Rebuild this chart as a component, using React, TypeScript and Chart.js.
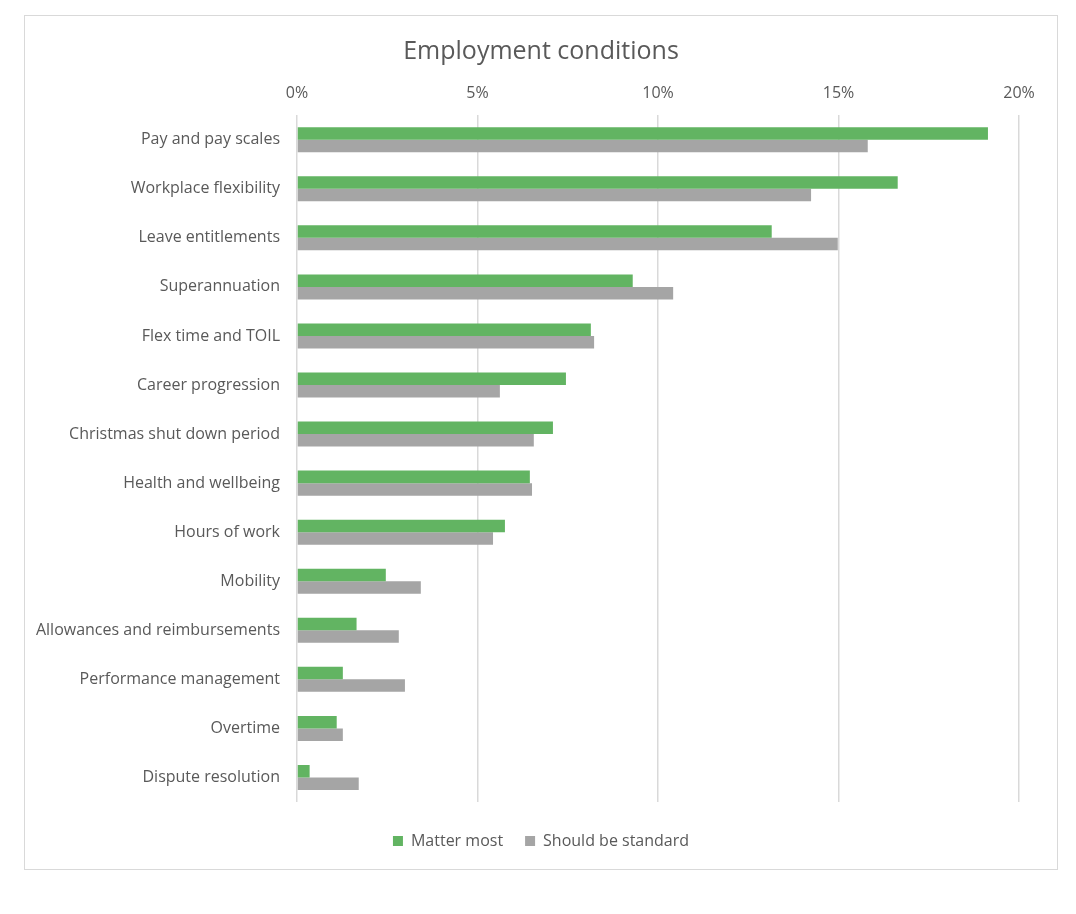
import React, { useEffect, useRef } from "react";
import { Chart, registerables } from "chart.js";

Chart.register(...registerables);

const categories = [
  "Pay and pay scales",
  "Workplace flexibility",
  "Leave entitlements",
  "Superannuation",
  "Flex time and TOIL",
  "Career progression",
  "Christmas shut down period",
  "Health and wellbeing",
  "Hours of work",
  "Mobility",
  "Allowances and reimbursements",
  "Performance management",
  "Overtime",
  "Dispute resolution",
];

const matterMost = [19.14, 16.64, 13.15, 9.3, 8.14, 7.45, 7.09, 6.45, 5.76, 2.46, 1.65, 1.27, 1.1, 0.35];
const shouldBeStandard = [15.81, 14.24, 14.98, 10.42, 8.23, 5.62, 6.56, 6.51, 5.43, 3.43, 2.82, 2.99, 1.27, 1.71];

const xTicks = [0, 5, 10, 15, 20];

const FONT = "'Open Sans', sans-serif";
const TEXT = "#595959";

export default function App() {
  const ref = useRef<HTMLCanvasElement | null>(null);

  useEffect(() => {
    if (!ref.current) return;
    const chart = new Chart(ref.current, {
      type: "bar",
      data: {
        labels: categories,
        datasets: [
          {
            label: "Matter most",
            data: matterMost,
            backgroundColor: "#62b462",
            borderWidth: 0,
            categoryPercentage: 0.51,
            barPercentage: 1.0,
          },
          {
            label: "Should be standard",
            data: shouldBeStandard,
            backgroundColor: "#a5a5a5",
            borderWidth: 0,
            categoryPercentage: 0.51,
            barPercentage: 1.0,
          },
        ],
      },
      options: {
        indexAxis: "y",
        animation: false,
        responsive: true,
        maintainAspectRatio: false,
        layout: { padding: { left: 0, right: 0, top: 21, bottom: 10 } },
        plugins: {
          title: {
            display: true,
            text: "Employment conditions",
            color: TEXT,
            font: { family: FONT, size: 25, weight: "normal" },
            padding: { top: 0, bottom: 5 },
          },
          legend: {
            position: "bottom",
            title: {
              display: true,
              text: " ",
              font: { size: 7.5 },
              padding: 0,
            },
            labels: {
              color: TEXT,
              font: { family: FONT, size: 16 },
              boxWidth: 10,
              boxHeight: 10,
              padding: 22,
            },
          },
          tooltip: { enabled: false },
        },
        scales: {
          x: {
            position: "top",
            min: 0,
            max: 20,
            afterBuildTicks: (scale: any) => {
              scale.ticks = xTicks.map((v) => ({ value: v }));
            },
            ticks: {
              color: TEXT,
              font: { family: FONT, size: 16 },
              padding: 12,
              callback: (v: any) => v + "%",
            },
            grid: { color: "#d9d9d9", lineWidth: 1.5, drawTicks: false },
            border: { display: false },
          },
          y: {
            afterFit: (scale: any) => {
              scale.width = 272;
            },
            ticks: {
              color: TEXT,
              font: { family: FONT, size: 16 },
              padding: 17,
            },
            grid: { display: false, drawTicks: false },
            border: { display: false },
          },
          yRight: {
            type: "linear",
            position: "right",
            display: true,
            afterFit: (scale: any) => {
              scale.width = 38;
            },
            ticks: { display: false },
            grid: { display: false, drawTicks: false },
            border: { display: false },
          },
        },
      },
    });
    return () => chart.destroy();
  }, []);

  return (
    <div style={{ position: "absolute", left: 0, top: 0, width: 1076, height: 914, background: "#fff" }}>
      <div
        style={{
          position: "absolute",
          left: 24,
          top: 15,
          width: 1034,
          height: 855,
          border: "1px solid #d9d9d9",
          boxSizing: "border-box",
        }}
      >
        <canvas ref={ref} />
      </div>
    </div>
  );
}
